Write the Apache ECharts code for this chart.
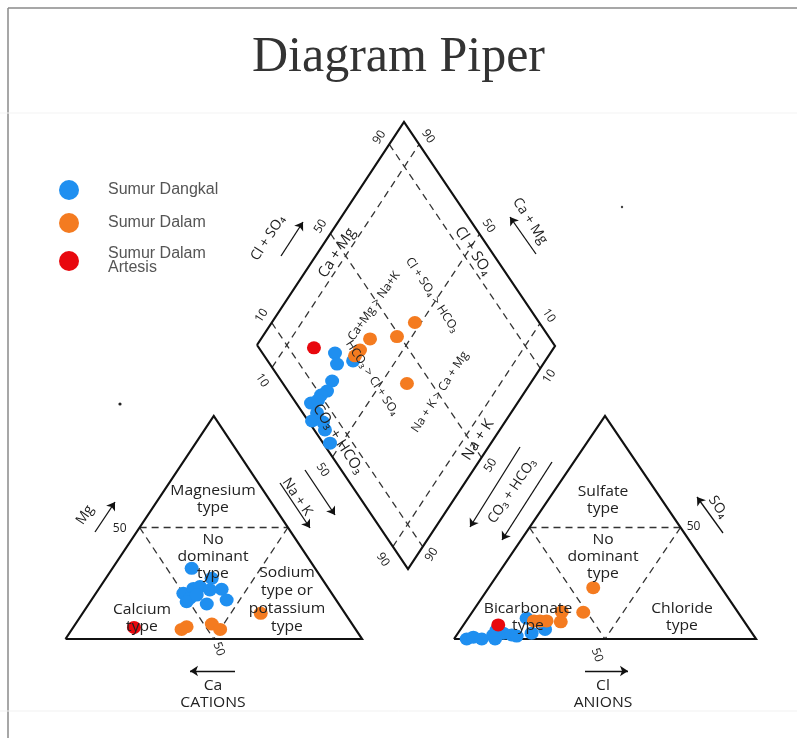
<!DOCTYPE html>
<html>
<head>
<meta charset="utf-8">
<script src="https://cdn.jsdelivr.net/npm/echarts@6.0.0/dist/echarts.min.js"></script>
<style>
html,body{margin:0;padding:0;background:#fff;}
#chart{width:797px;height:738px;}
</style>
</head>
<body>
<div id="chart"></div>
<script>
// ---- sample groups ----
const groupNames = ['Sumur Dangkal', 'Sumur Dalam', 'Sumur Dalam Artesis'];

// Cation shares (%): [Ca, Mg, Na+K]
const cationDangkal = [
  [41.6, 31.7, 26.7], [37.1, 27.2, 35.7], [50.0, 20.5, 29.5], [45.5, 22.7, 31.8],
  [42.9, 23.5, 33.6], [40.3, 22.0, 37.7], [36.2, 22.3, 41.5], [48.9, 18.3, 32.8],
  [44.5, 15.7, 39.8], [36.9, 17.5, 45.6], [50.8, 16.7, 32.5], [45.9, 19.7, 34.4]
];
const cationDalam = [[58.7, 4.3, 37.0], [56.4, 5.5, 38.1], [47.3, 6.7, 46.0], [45.7, 4.3, 50.0], [28.4, 11.5, 60.1]];
const cationArtesis = [[74.3, 5.2, 20.5]];

// Anion shares (%): [CO3+HCO3, SO4, Cl]
const anionDangkal = [
  [95.8, 0.0, 4.2], [93.2, 0.8, 6.0], [90.8, 0.0, 9.2], [86.1, 1.8, 12.1],
  [86.4, 0.0, 13.6], [82.4, 2.6, 15.0], [80.0, 1.8, 18.2], [78.6, 1.3, 20.1],
  [71.3, 9.3, 19.4], [73.0, 2.6, 24.4], [67.7, 4.3, 28.0], [83.9, 4.0, 12.1]
];
const anionDalam = [[42.4, 23.0, 34.6], [51.2, 12.0, 36.8], [58.2, 12.2, 29.6], [60.8, 7.7, 31.5], [65.3, 8.1, 26.6], [67.5, 8.1, 24.4], [69.5, 8.1, 22.4]];
const anionArtesis = [[82.2, 6.3, 11.5]];

// Diamond field (%): [Na+K, Cl+SO4]
const fieldDangkal = [
  [27.9, 24.4], [31.0, 22.6], [35.7, 28.7], [33.1, 17.1], [33.6, 13.1], [32.5, 10.2], [30.9, 5.0],
  [35.1, 4.8], [35.2, 1.3], [39.1, 4.7], [41.5, 3.6], [46.1, 2.3], [32.6, 8.0]
];
const fieldDalam = [[47.9, 58.2], [45.0, 49.0], [36.5, 39.4], [35.6, 33.5], [35.2, 30.5], [58.7, 41.7]];
const fieldArtesis = [[19.7, 18.5]];

// Scale ticks
const fieldTicks = [10, 50, 90];
const triangleTick = 50;

// ---- layout (pixel space of the hidden value axes) ----
const W = 797, H = 738;
const colors = ['#1f8ff0', '#f47b20', '#e8080e'];
const cationTri = { left: [65.5, 639], top: [213.75, 416], right: [362, 639] };
const anionTri = { left: [454, 639], top: [605, 416], right: [756, 639] };
const field = { left: [257, 345], top: [404, 122], bottom: [408, 569] };
const SANS = "'Open Sans', 'Noto Sans', 'DejaVu Sans', sans-serif";

// barycentric placement: p = [left-vertex %, top-vertex %, right-vertex %]
function tern(tri, p) {
  const s = p[0] + p[1] + p[2];
  return [
    (tri.left[0] * p[0] + tri.top[0] * p[1] + tri.right[0] * p[2]) / s,
    (tri.left[1] * p[0] + tri.top[1] * p[1] + tri.right[1] * p[2]) / s
  ];
}
// diamond placement: c = Na+K %, a = Cl+SO4 %
function fieldPt(c, a) {
  const L = field.left, T = field.top, B = field.bottom;
  return [
    L[0] + c / 100 * (B[0] - L[0]) + a / 100 * (T[0] - L[0]),
    L[1] + c / 100 * (B[1] - L[1]) + a / 100 * (T[1] - L[1])
  ];
}

// ---- frames and guide lines ----
const outlines = [
  { coords: [cationTri.left, cationTri.top, cationTri.right, cationTri.left] },
  { coords: [anionTri.left, anionTri.top, anionTri.right, anionTri.left] },
  { coords: [fieldPt(0, 0), fieldPt(0, 100), fieldPt(100, 100), fieldPt(100, 0), fieldPt(0, 0)] }
];
const h = triangleTick, r = 100 - triangleTick;
const guides = [];
[cationTri, anionTri].forEach(tri => {
  guides.push({ coords: [tern(tri, [r, h, 0]), tern(tri, [0, h, r])] });
  guides.push({ coords: [tern(tri, [h, r, 0]), tern(tri, [h, 0, r])] });
  guides.push({ coords: [tern(tri, [0, r, h]), tern(tri, [r, 0, h])] });
});
fieldTicks.forEach(t => {
  guides.push({ coords: [fieldPt(t, 0), fieldPt(t, 100)] });
  guides.push({ coords: [fieldPt(0, t), fieldPt(100, t)] });
});

// direction arrows beside the scales
const arrows = [
  [[281, 256], [303, 222]],
  [[536, 254], [510, 217]],
  [[95, 532], [115, 502]],
  [[280, 483], [310, 528]],
  [[305, 470], [335, 515]],
  [[235, 671], [190, 671]],
  [[723, 533], [697, 497]],
  [[520, 447], [470, 527]],
  [[552, 462], [502, 540]],
  [[585, 671], [628, 671]]
].map(c => ({ coords: c }));

// ---- text helpers ----
function txt(x, y, text, o) {
  o = o || {};
  return {
    type: 'text', x: x, y: y, z: 50,
    rotation: (o.rot || 0) * Math.PI / 180,
    scaleX: o.sx || 1.12,
    silent: true,
    style: {
      text: text, x: 0, y: 0,
      fill: o.color || '#222',
      font: (o.size || 14) + 'px ' + SANS,
      align: 'center', verticalAlign: 'middle',
      lineHeight: o.lh || 17
    }
  };
}
const graphics = [];
// outer page frame
graphics.push({ type: 'line', shape: { x1: 8, y1: 8, x2: 8, y2: H }, style: { stroke: '#8a8a8a', lineWidth: 1.5 }, silent: true });
graphics.push({ type: 'line', shape: { x1: 8, y1: 8, x2: W, y2: 8 }, style: { stroke: '#8a8a8a', lineWidth: 1.5 }, silent: true });
graphics.push({ type: 'line', shape: { x1: 0, y1: 113, x2: W, y2: 113 }, style: { stroke: '#f3f3f3', lineWidth: 1 }, silent: true });
graphics.push({ type: 'line', shape: { x1: 0, y1: 711, x2: W, y2: 711 }, style: { stroke: '#f1f1f1', lineWidth: 1 }, silent: true });
graphics.push({ type: 'circle', shape: { cx: 120, cy: 404, r: 1.6 }, style: { fill: '#222' }, silent: true });
graphics.push({ type: 'circle', shape: { cx: 622, cy: 207, r: 1.2 }, style: { fill: '#444' }, silent: true });

// diamond scale numbers, placed from the tick values
const edgeOffsets = { ul: [-10, -7], ur: [9, -8], ll: [-10, 13], lr: [9, 8] };
fieldTicks.forEach(t => {
  let p;
  p = fieldPt(0, t); graphics.push(txt(p[0] + edgeOffsets.ul[0], p[1] + edgeOffsets.ul[1], String(t), { size: 12, rot: 57, sx: 1 }));
  p = fieldPt(t, 100); graphics.push(txt(p[0] + edgeOffsets.ur[0], p[1] + edgeOffsets.ur[1], String(100 - t), { size: 12, rot: -57, sx: 1 }));
  p = fieldPt(t, 0); graphics.push(txt(p[0] + edgeOffsets.ll[0], p[1] + edgeOffsets.ll[1], String(t), { size: 12, rot: -57, sx: 1 }));
  p = fieldPt(100, t); graphics.push(txt(p[0] + edgeOffsets.lr[0], p[1] + edgeOffsets.lr[1], String(100 - t), { size: 12, rot: 57, sx: 1 }));
});
// triangle scale numbers
let q = tern(cationTri, [r, h, 0]); graphics.push(txt(q[0] - 20, q[1] + 1, String(triangleTick), { size: 12, sx: 1 }));
q = tern(cationTri, [h, 0, r]); graphics.push(txt(q[0] + 5, q[1] + 10, String(triangleTick), { size: 12, rot: -70, sx: 1 }));
q = tern(anionTri, [0, h, r]); graphics.push(txt(q[0] + 13, q[1] - 1, String(triangleTick), { size: 12, sx: 1 }));
q = tern(anionTri, [h, 0, r]); graphics.push(txt(q[0] - 8, q[1] + 16, String(triangleTick), { size: 12, rot: -70, sx: 1 }));

// scale names
graphics.push(txt(268, 238, 'Cl + SO\u2084', { size: 14, rot: 57, sx: 1 }));
graphics.push(txt(530, 221, 'Ca + Mg', { size: 14, rot: -57, sx: 1 }));
graphics.push(txt(337, 253, 'Ca + Mg', { size: 15, rot: 57, sx: 1 }));
graphics.push(txt(473, 251, 'Cl + SO\u2084', { size: 15, rot: -57, sx: 1 }));
graphics.push(txt(478, 440, 'Na + K', { size: 15, rot: 57, sx: 1 }));
graphics.push(txt(338, 439, 'CO\u2083 + HCO\u2083', { size: 15, rot: -57, sx: 1 }));
graphics.push(txt(374, 306, 'Ca+Mg > Na+K', { size: 12, rot: 55, sx: 1 }));
graphics.push(txt(432, 295, 'Cl + SO\u2084 > HCO\u2083', { size: 12, rot: -57, sx: 1 }));
graphics.push(txt(372, 378, 'HCO\u2083 > Cl + SO\u2084', { size: 12, rot: -57, sx: 1 }));
graphics.push(txt(440, 392, 'Na + K > Ca + Mg', { size: 12, rot: 57, sx: 1 }));

// cation triangle
graphics.push(txt(213, 500, 'Magnesium\ntype'));
graphics.push(txt(213, 557, 'No\ndominant\ntype'));
graphics.push(txt(142, 619, 'Calcium\ntype'));
graphics.push(txt(287, 600, 'Sodium\ntype or\npotassium\ntype', { lh: 18 }));
graphics.push(txt(85, 515, 'Mg', { size: 14, rot: 56, sx: 1 }));
graphics.push(txt(297, 497, 'Na + K', { size: 14, rot: -56, sx: 1 }));
graphics.push(txt(213, 695, 'Ca\nCATIONS'));

// anion triangle
graphics.push(txt(603, 501, 'Sulfate\ntype'));
graphics.push(txt(603, 557, 'No\ndominant\ntype'));
graphics.push(txt(528, 618, 'Bicarbonate\ntype'));
graphics.push(txt(682, 618, 'Chloride\ntype'));
graphics.push(txt(718, 507, 'SO\u2084', { size: 14, rot: -56, sx: 1 }));
graphics.push(txt(512, 491, 'CO\u2083 + HCO\u2083', { size: 14, rot: 56, sx: 1 }));
graphics.push(txt(603, 695, 'Cl\nANIONS'));

// ---- sample series ----
const groups = [
  { cat: cationDangkal, an: anionDangkal, fd: fieldDangkal },
  { cat: cationDalam, an: anionDalam, fd: fieldDalam },
  { cat: cationArtesis, an: anionArtesis, fd: fieldArtesis }
];
const sampleSeries = [];
groups.forEach((g, i) => {
  const pts = []
    .concat(g.cat.map(p => tern(cationTri, p)))
    .concat(g.an.map(p => tern(anionTri, p)))
    .concat(g.fd.map(p => fieldPt(p[0], p[1])));
  sampleSeries.push({
    name: groupNames[i], type: 'scatter', data: pts,
    symbol: 'circle', symbolSize: [14, 13], z: 10 + i,
    itemStyle: { color: colors[i], opacity: 1 },
    silent: true
  });
});

const chart = echarts.init(document.getElementById('chart'), null, { renderer: 'canvas' });
chart.setOption({
  animation: false,
  backgroundColor: '#ffffff',
  title: {
    text: 'Diagram Piper', left: 'center', top: 28,
    textStyle: { fontFamily: "'Liberation Serif', 'Times New Roman', serif", fontSize: 50, fontWeight: 'normal', color: '#333' }
  },
  legend: {
    orient: 'vertical', left: 54, top: 175,
    itemWidth: 24, itemHeight: 20, itemGap: 13,
    icon: 'path://M50,0 A50,50 0 1,1 49.99,0 Z', selectedMode: false,
    data: groupNames,
    formatter: n => n === 'Sumur Dalam Artesis' ? 'Sumur Dalam\nArtesis' : n,
    textStyle: { fontFamily: "'Liberation Sans', Arial, sans-serif", fontSize: 16, color: '#555', lineHeight: 14, padding: [0, 0, 0, 22] }
  },
  grid: { left: 0, right: 0, top: 0, bottom: 0, containLabel: false },
  xAxis: { type: 'value', min: 0, max: W, show: false },
  yAxis: { type: 'value', min: 0, max: H, inverse: true, show: false },
  graphic: graphics,
  series: [
    {
      type: 'lines', coordinateSystem: 'cartesian2d', polyline: true, silent: true, z: 2,
      lineStyle: { color: '#111', width: 2.2, opacity: 1, join: 'miter' },
      data: outlines
    },
    {
      type: 'lines', coordinateSystem: 'cartesian2d', silent: true, z: 1,
      lineStyle: { color: '#333', width: 1.3, type: [7, 5], opacity: 1 },
      data: guides
    },
    {
      type: 'lines', coordinateSystem: 'cartesian2d', silent: true, z: 2,
      symbol: ['none', 'arrow'], symbolSize: 8,
      lineStyle: { color: '#111', width: 1.3, opacity: 1 },
      data: arrows
    }
  ].concat(sampleSeries)
});
</script>
</body>
</html>
